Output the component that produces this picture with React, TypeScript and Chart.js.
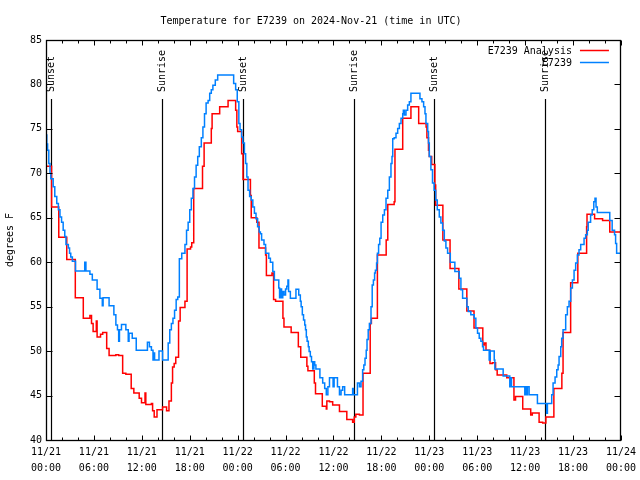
import React, { useEffect, useRef } from "react";
import { Chart, registerables } from "chart.js";

Chart.register(...registerables);

const FONT = "'DejaVu Sans Mono', 'Liberation Mono', monospace";

const chartTitle = "Temperature for E7239 on 2024-Nov-21 (time in UTC)";
const yAxisTitle = "degrees F";

// x axis: hours since 2024-11-21 00:00 UTC
const xMin = 0;
const xMax = 72;
const xMajorStep = 6;
const xMinorStep = 2;
const xTickLabels = [
  ["11/21", "00:00"], ["11/21", "06:00"], ["11/21", "12:00"], ["11/21", "18:00"],
  ["11/22", "00:00"], ["11/22", "06:00"], ["11/22", "12:00"], ["11/22", "18:00"],
  ["11/23", "00:00"], ["11/23", "06:00"], ["11/23", "12:00"], ["11/23", "18:00"],
  ["11/24", "00:00"],
];
const yMin = 40;
const yMax = 85;
const yStep = 5;

// sunrise / sunset markers
const eventHours = [0.66, 14.54, 24.66, 38.54, 48.54, 62.54];
const eventLabels = ["Sunset", "Sunrise", "Sunset", "Sunrise", "Sunset", "Sunrise"];

const seriesLabels = ["E7239 Analysis", "E7239"];
const seriesColors = ["#ff0000", "#0080ff"];

// E7239 Analysis (step values: value holds from hour until next hour)
const analysisHours = [
  0, 0.7, 1.6, 2.6, 3.67, 4.67, 5.5, 5.7, 5.9, 6.3, 6.4, 6.83, 7.1, 7.6, 7.9, 8.75, 9.1, 9.6,
  10.0, 10.67, 11.0, 11.67, 11.96, 12.4, 12.5, 13.2, 13.35, 13.55, 13.9, 14.6, 15.1, 15.4,
  15.7, 15.85, 16.05, 16.25, 16.6, 16.8, 17.4, 17.67, 18.1, 18.25, 18.5, 19.6, 19.8, 20.7,
  20.8, 21.75, 22.8, 23.75, 23.9, 24.0, 24.5, 24.67, 25.6, 25.7, 26.4, 26.67, 27.5, 27.6,
  28.3, 28.5, 28.75, 29.67, 29.8, 30.7, 31.6, 31.9, 32.67, 32.8, 33.6, 33.75, 34.6, 35.1,
  35.17, 35.5, 35.9, 36.75, 37.67, 38.4, 38.6, 38.8, 39.25, 39.7, 40.6, 40.75, 41.5, 42.6,
  42.8, 43.6, 43.7, 44.67, 45.7, 46.67, 47.6, 47.7, 47.9, 48.0, 48.3, 48.7, 48.8, 49.7,
  50.6, 51.7, 52.7, 53.6, 54.7, 54.9, 55.1, 55.6, 55.9, 56.3, 56.5, 57.7, 58.6, 58.8, 59.7,
  60.7, 60.9, 61.75, 62.2, 62.6, 63.6, 64.6, 64.75, 65.7, 66.6, 67.7, 67.75, 68.7, 69.7,
  70.6, 72,
];
const analysisTemps = [
  70.8, 66.2, 62.8, 60.3, 56.0, 53.7, 54.0, 53.1, 52.2, 53.4, 51.6, 51.9, 52.1, 50.3, 49.5, 49.6, 49.5, 47.5,
  47.4, 45.8, 45.3, 44.7, 44.2, 45.3, 44.0, 44.1, 43.3, 42.6, 43.4, 43.7, 43.3, 44.4,
  46.4, 48.2, 48.6, 49.3, 53.4, 54.9, 55.6, 61.5, 61.7, 62.2, 68.3, 70.8, 73.4, 75.05,
  76.7, 77.5, 78.2, 77.1, 75.2, 74.7, 72.2, 69.3, 67.5, 65.0, 64.5, 61.6, 60.8, 58.5,
  58.8, 55.8, 55.6, 53.7, 52.7, 52.1, 50.5, 49.3, 48.3, 47.8, 46.4, 45.2, 43.8, 43.5,
  44.4, 44.3, 43.95, 43.2, 42.3, 42.0, 42.6, 42.9, 42.8, 47.5, 53.1, 53.7, 60.8, 62.5,
  66.5, 66.8, 72.7, 76.2, 77.5, 75.6, 75.2, 74.0, 72.6, 71.9, 71.0, 68.7, 66.4, 62.5,
  59.3, 57.0, 54.5, 52.6, 50.7, 50.9, 50.1, 48.6, 48.7, 47.9, 47.3, 47.0, 44.5, 44.9, 43.5,
  42.8, 43.05, 42.0, 41.9, 42.6, 45.8, 47.5, 52.1, 57.7, 61.0, 64.0, 65.4, 64.9, 64.7,
  63.4, 63.4,
];

// E7239 station observations
const stationHours = [
  0.0, 0.1, 0.2, 0.35, 0.5, 0.6, 0.9, 1.1, 1.35, 1.55, 1.75, 1.95, 2.15, 2.35, 2.5, 2.8, 2.95,
  3.1, 3.3, 3.7, 4.85, 5.0, 5.5, 5.8, 6.4, 6.75, 7.05, 7.15, 7.9, 8.5, 8.75, 8.95, 9.1, 9.2,
  9.45, 10.0, 10.3, 10.4, 10.8, 11.3, 12.7, 12.95, 13.2, 13.4, 13.5, 13.6, 14.15, 14.6,
  15.3, 15.5, 15.7, 15.9, 16.1, 16.3, 16.5, 16.7, 17.0, 17.4, 17.6, 17.8, 18.0, 18.2, 18.4,
  18.6, 18.8, 19.0, 19.2, 19.45, 19.65, 19.85, 20.05, 20.3, 20.5, 20.7, 20.9, 21.2, 21.5,
  23.5, 23.75, 23.95, 24.15, 24.3, 24.5, 24.65, 24.85, 25.0, 25.15, 25.3, 25.5, 25.7, 25.9,
  26.1, 26.3, 26.5, 26.7, 26.85, 27.0, 27.3, 27.5, 27.9, 28.1, 28.4, 28.6, 29.15, 29.25,
  29.4, 29.5, 29.65, 29.8, 30.0, 30.15, 30.3, 30.38, 30.6, 31.3, 31.65, 31.85, 31.95, 32.1,
  32.25, 32.4, 32.5, 32.6, 32.7, 32.85, 32.95, 33.1, 33.25, 33.4, 33.55, 33.65, 33.8, 34.3,
  34.65, 34.9, 35.1, 35.3, 35.5, 35.95, 36.08, 36.5, 36.75, 36.95, 37.15, 37.4, 38.4, 38.5,
  39.0, 39.25, 39.45, 39.65, 39.8, 39.95, 40.1, 40.2, 40.35, 40.5, 40.7, 40.85, 41.0, 41.15,
  41.25, 41.4, 41.5, 41.65, 41.8, 41.96, 42.17, 42.38, 42.58, 42.8, 43.0, 43.2, 43.33, 43.42,
  43.6, 43.83, 44.04, 44.25, 44.46, 44.67, 44.75, 44.88, 45.08, 45.29, 45.5, 45.7, 46.83,
  47.08, 47.29, 47.46, 47.58, 47.8, 47.9, 48.0, 48.2, 48.4, 48.6, 48.8, 49.0, 49.25, 49.45,
  49.67, 49.88, 50.08, 50.29, 50.63, 51.2, 51.75, 51.96, 52.17, 52.71, 52.88, 53.2, 53.63,
  53.83, 54.04, 54.25, 54.46, 54.67, 54.79, 55.5, 55.63, 56.13, 56.21, 57.25, 58.08, 58.15,
  58.29, 59.96, 60.08, 60.2, 60.29, 60.5, 61.54, 62.7, 62.79, 63.33, 63.5, 63.75, 63.96,
  64.13, 64.25, 64.46, 64.58, 64.75, 65.08, 65.29, 65.5, 65.71, 65.92, 66.13, 66.33, 66.54,
  66.75, 66.96, 67.38, 67.58, 67.79, 67.9, 68.2, 68.4, 68.6, 68.75, 68.88, 69.04, 70.6,
  70.9, 71.2, 71.33, 71.46, 72,
];
const stationTemps = [
  74.3, 73.3, 72.6, 71.1, 70.0, 69.4, 68.5, 67.4, 66.6, 65.9, 65.1, 64.5, 63.6, 62.9, 62.0, 61.6, 61.0,
  60.6, 60.1, 59.0, 60.0, 59.0, 58.65, 58.0, 56.95, 55.95, 55.1, 56.0, 55.1, 54.1, 52.95, 52.4, 51.1, 52.4,
  53.0, 52.4, 51.1, 52.0, 51.45, 50.1, 51.0, 50.5, 50.1, 49.0, 49.8, 49.0, 50.0, 49.0,
  50.9, 52.4, 53.1, 53.7, 54.6, 55.8, 56.1, 60.4, 61.0, 62.0, 63.6, 64.5, 65.9, 67.2, 68.3,
  69.6, 70.9, 71.9, 73.0, 74.0, 75.2, 76.7, 77.9, 78.2, 79.0, 79.4, 79.9, 80.5, 81.05,
  80.1, 79.4, 78.05, 75.6, 74.9, 74.1, 73.4, 72.2, 71.1, 69.6, 68.1, 67.4, 67.0, 66.2,
  65.5, 64.9, 64.0, 63.4, 63.2, 62.5, 62.0, 61.0, 60.45, 60.0, 58.95, 58.0, 57.1, 56.0,
  57.0, 56.0, 56.7, 56.3, 57.0, 57.3, 58.0, 56.7, 55.95, 56.95, 56.3, 55.6, 55.0, 54.1,
  53.5, 52.95, 52.4, 51.6, 51.1, 50.5, 49.95, 49.4, 48.8, 48.0, 48.8, 48.45, 48.0, 47.0,
  46.4, 45.8, 45.1, 46.0, 47.0, 46.0, 47.0, 46.0, 45.1, 45.6, 46.0, 45.1, 45.8, 45.1,
  46.4, 46.0, 46.6, 47.9, 48.45, 49.2, 50.1, 51.3, 52.4, 53.1, 55.0, 57.45, 58.0, 58.8,
  59.1, 59.9, 61.0, 62.0, 62.7, 64.5, 65.3, 65.9, 67.2, 68.1, 69.6, 71.1, 71.9, 73.9,
  74.0, 74.5, 75.05, 75.6, 76.2, 76.7, 77.1, 76.55, 77.1, 77.7, 78.05, 79.0, 78.4,
  78.05, 77.5, 76.7, 75.6, 74.7, 73.4, 71.9, 70.4, 68.9, 68.1, 67.0, 65.9, 65.1, 64.4,
  63.6, 62.4, 61.6, 61.0, 60.0, 58.95, 58.2, 56.9, 55.95, 55.0, 54.45, 54.1, 53.7,
  52.6, 52.0, 51.45, 51.1, 50.5, 50.1, 49.0, 50.0, 49.0, 48.0, 47.2, 46.0, 47.0,
  46.0, 45.1, 46.0, 45.1, 46.0, 45.1, 44.1, 43.0, 44.1, 45.1, 46.4, 47.1, 47.9,
  48.45, 49.4, 50.5, 51.45, 52.4, 54.1, 55.0, 55.6, 57.1, 58.0, 59.1, 59.9, 60.8,
  61.4, 62.0, 62.7, 63.1, 63.6, 64.5, 65.3, 65.9, 66.8, 67.2, 66.2, 65.6, 64.7,
  63.6, 63.1, 62.1, 61.0, 61.0,
];

const toPoints = (xs: number[], ys: number[]) => xs.map((x, i) => ({ x, y: ys[i] }));

const decorPlugin = {
  id: "gnuplotDecor",
  beforeDatasetsDraw(chart: any) {
    const { ctx, chartArea, scales } = chart;
    const xs = scales.x;
    const ctop = chartArea.bottom - 0.8525 * (chartArea.bottom - chartArea.top);
    const ltop = chartArea.bottom - 0.87 * (chartArea.bottom - chartArea.top);
    ctx.save();
    ctx.strokeStyle = "#000";
    ctx.lineWidth = 1.2;
    ctx.fillStyle = "#000";
    ctx.font = `10px ${FONT}`;
    eventHours.forEach((h, i) => {
      const px = Math.round(xs.getPixelForValue(h)) + 0.5;
      ctx.beginPath();
      ctx.moveTo(px, chartArea.bottom);
      ctx.lineTo(px, ctop);
      ctx.stroke();
      ctx.save();
      ctx.translate(px, ltop);
      ctx.rotate(-Math.PI / 2);
      ctx.textAlign = "left";
      ctx.textBaseline = "middle";
      ctx.fillText(eventLabels[i], 0, 0);
      ctx.restore();
    });
    ctx.restore();
  },
  afterDatasetsDraw(chart: any) {
    const { ctx, chartArea, scales } = chart;
    const xs = scales.x;
    const ys = scales.y;
    const { left, right, top, bottom } = chartArea;
    const L = Math.round(left) + 0.5;
    const R = Math.round(right) - 0.5;
    const T = Math.round(top) + 0.5;
    const B = Math.round(bottom) + 0.5;
    ctx.save();
    ctx.strokeStyle = "#000";
    ctx.lineWidth = 1;
    ctx.beginPath();
    for (let h = xMin; h <= xMax; h += xMinorStep) {
      const px = Math.round(xs.getPixelForValue(h)) + 0.5;
      const len = h % xMajorStep === 0 ? 5 : 3;
      ctx.moveTo(px, B);
      ctx.lineTo(px, B - len);
      ctx.moveTo(px, T);
      ctx.lineTo(px, T + len);
    }
    for (let v = yMin; v <= yMax; v += yStep) {
      const py = Math.round(ys.getPixelForValue(v)) + 0.5;
      ctx.moveTo(L, py);
      ctx.lineTo(L + 6, py);
      ctx.moveTo(R, py);
      ctx.lineTo(R - 6, py);
    }
    ctx.stroke();
    ctx.lineWidth = 1.3;
    ctx.strokeRect(L, T, R - L, B - T);
    ctx.restore();

    // legend (top right, text right-aligned with sample line on the right)
    ctx.save();
    ctx.font = `10px ${FONT}`;
    ctx.textAlign = "right";
    ctx.textBaseline = "middle";
    seriesLabels.forEach((lab, i) => {
      const y = top + 10.5 + i * 12;
      ctx.fillStyle = "#000";
      ctx.fillText(lab, right - 49, y + 0.5);
      ctx.strokeStyle = seriesColors[i];
      ctx.lineWidth = 1.5;
      ctx.beginPath();
      ctx.moveTo(right - 41, y);
      ctx.lineTo(right - 12, y);
      ctx.stroke();
    });
    ctx.restore();
  },
};

export default function App() {
  const canvasRef = useRef<HTMLCanvasElement | null>(null);

  useEffect(() => {
    document.body.style.margin = "0";
    const canvas = canvasRef.current;
    if (!canvas) return;
    const chart = new Chart(canvas, {
      type: "line",
      data: {
        datasets: [
          {
            label: seriesLabels[0],
            data: toPoints(analysisHours, analysisTemps),
            borderColor: seriesColors[0],
            backgroundColor: seriesColors[0],
            borderWidth: 1.5,
            pointRadius: 0,
            stepped: true,
            fill: false,
            order: 1,
          },
          {
            label: seriesLabels[1],
            data: toPoints(stationHours, stationTemps),
            borderColor: seriesColors[1],
            backgroundColor: seriesColors[1],
            borderWidth: 1.5,
            pointRadius: 0,
            stepped: true,
            fill: false,
            order: 0,
          },
        ],
      },
      options: {
        responsive: false,
        animation: false,
        devicePixelRatio: 1,
        layout: { padding: { left: 0, right: 18, top: 0, bottom: 0 } },
        plugins: {
          legend: { display: false },
          tooltip: { enabled: false },
          title: {
            display: true,
            text: chartTitle,
            color: "#000",
            font: { family: FONT, size: 10, weight: "normal", lineHeight: 1.2 },
            padding: { top: 15, bottom: 13 },
          },
        },
        scales: {
          x: {
            type: "linear",
            min: xMin,
            max: xMax,
            grid: { display: false, drawTicks: false },
            border: { display: false },
            afterFit: (scale: any) => {
              scale.height = 40;
            },
            ticks: {
              stepSize: xMajorStep,
              autoSkip: false,
              maxRotation: 0,
              minRotation: 0,
              padding: 4,
              color: "#000",
              font: { family: FONT, size: 10, lineHeight: 1.6 },
              callback: (value: any) => xTickLabels[Math.round(Number(value) / xMajorStep)] as any,
            },
          },
          y: {
            type: "linear",
            min: yMin,
            max: yMax,
            grid: { display: false, drawTicks: false },
            border: { display: false },
            afterFit: (scale: any) => {
              scale.width = 46;
            },
            title: {
              display: true,
              text: yAxisTitle,
              color: "#000",
              font: { family: FONT, size: 10, lineHeight: 1.2 },
              padding: { top: 4, bottom: 0 },
            },
            ticks: {
              stepSize: yStep,
              padding: 4,
              color: "#000",
              font: { family: FONT, size: 10 },
            },
          },
        },
      },
      plugins: [decorPlugin],
    } as any);
    return () => chart.destroy();
  }, []);

  return (
    <div style={{ position: "absolute", left: 0, top: 0, width: 640, height: 480, background: "#fff" }}>
      <canvas ref={canvasRef} width={640} height={480} />
    </div>
  );
}
